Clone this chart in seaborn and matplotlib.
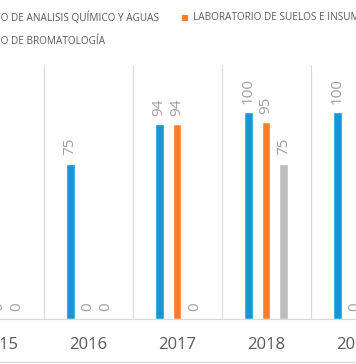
import matplotlib
matplotlib.use("Agg")
import matplotlib.pyplot as plt
import seaborn as sns
import pandas as pd
from matplotlib.lines import Line2D
from matplotlib.patches import Rectangle

years = ["2015", "2016", "2017", "2018", "2019"]
series_names = [
    "LABORATORIO DE ANALISIS QUÍMICO Y AGUAS",
    "LABORATORIO DE SUELOS E INSUMOS",
    "LABORATORIO DE BROMATOLOGÍA",
]
quimico = [0, 75, 94, 100, 100]
suelos = [0, 0, 94, 95, 0]
bromatologia = [0, 0, 0, 75, 0]
colors = ["#1A96D4", "#F97E2B", "#BDBDBD"]

rows = []
for name, vals in zip(series_names, [quimico, suelos, bromatologia]):
    for y, v in zip(years, vals):
        rows.append({"year": y, "lab": name, "value": v})
df = pd.DataFrame(rows)

sns.set_style("white")
plt.rcParams["font.family"] = ["Open Sans", "DejaVu Sans"]

W, H = 356, 364
fig = plt.figure(figsize=(W / 100, H / 100), dpi=100)
ax_bottom_px, ax_top_px = 319, 65
ax_left_px, ax_right_px = -30, 386   # plot area is wider than the (cropped) image
ax = fig.add_axes([ax_left_px / W, (H - ax_bottom_px) / H,
                   (ax_right_px - ax_left_px) / W, (ax_bottom_px - ax_top_px) / H])

sns.barplot(data=df, x="year", y="value", hue="lab", order=years,
            hue_order=series_names, palette=colors, width=0.6, gap=0.5,
            legend=False, ax=ax, saturation=1)

for cont in ax.containers:
    ax.bar_label(cont, padding=6, rotation=90, fontsize=11, color="#A0A0A0")

ax.set_xlabel("")
ax.set_ylabel("")
ax.set_yticks([])
ax.set_xticks(range(len(years)))
ax.set_xticklabels(years, fontsize=12, color="#595959")
ax.tick_params(axis="x", length=0, pad=13)
ax.set_xticks([i + 0.5 for i in range(-1, len(years))], minor=True)
ax.tick_params(axis="x", which="minor", length=0)
ax.grid(axis="x", which="minor", color="#D9D9D9", linewidth=0.8)
ax.grid(axis="x", which="major", visible=False)
unit = 89.0  # pixels per category
ax.set_xlim((ax_left_px + 1) / unit, (ax_right_px + 1) / unit)
ax.set_ylim(0, 122.7)
for s in ["top", "left", "right"]:
    ax.spines[s].set_visible(False)
ax.spines["bottom"].set_color("#D9D9D9")
ax.spines["bottom"].set_linewidth(0.8)

# legend (manual, two rows as in the reference)
fig.canvas.draw()
r = fig.canvas.get_renderer()
t1 = fig.text(159 / W, 1 - 18 / H, series_names[0], ha="right", va="center",
              fontsize=7.2, color="#595959")
fig.canvas.draw()
x0 = t1.get_window_extent(r).x0 / W
t2 = fig.text(193 / W, 1 - 18 / H, series_names[1], ha="left", va="center",
              fontsize=7.2, color="#595959")
t3 = fig.text(x0, 1 - 42 / H, series_names[2], ha="left", va="center",
              fontsize=7.2, color="#595959")
sq = 5.5
for xx, yy, c in [(x0 * W - 11, 18, colors[0]), (182, 18, colors[1]), (x0 * W - 11, 42, colors[2])]:
    fig.add_artist(Rectangle((xx / W, 1 - (yy + sq / 2) / H), sq / W, sq / H,
                             transform=fig.transFigure, color=c, lw=0))

fig.add_artist(Line2D([0, 1], [1 - 362 / H, 1 - 362 / H], transform=fig.transFigure,
                      color="#D9D9D9", lw=0.8))

fig.savefig("out.png", dpi=100)
